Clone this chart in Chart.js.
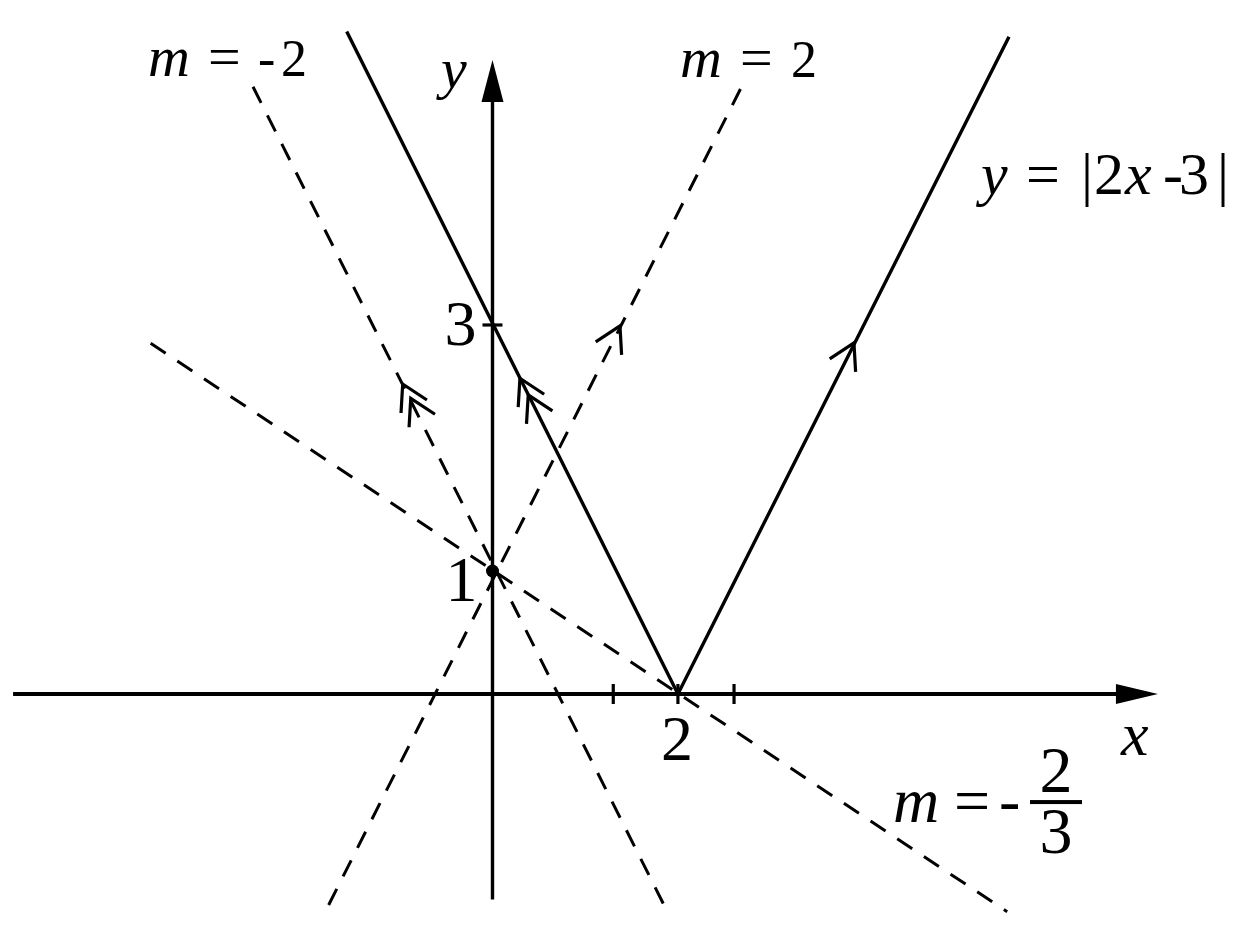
<!DOCTYPE html>
<html lang="en">
<head>
  <meta charset="UTF-8">
  <title>y = |2x - 3| and lines through (0, 1)</title>
  <script src="https://cdn.jsdelivr.net/npm/chart.js"></script>
  <style>
    body {
      margin: 0;
      background: #ffffff;
    }
    #plot {
      display: block;
    }
  </style>
</head>
<body>
  <canvas id="plot" width="1253" height="934"></canvas>

  <script>
    // values (data units)
    const absX = [-1.195, 1.52, 4.234];
    const absY = [5.385, 0, 5.344];
    const m2X = [-1.343, 2.070];
    const m2Y = [-1.715, 4.992];
    const mNeg2X = [-1.963, 1.414];
    const mNeg2Y = [4.937, -1.732];
    const mThirdX = [-2.802, 4.219];
    const mThirdY = [2.851, -1.770];
    const xAxisX = [-3.93, 5.455];
    const yAxisY = [-1.67, 5.154];
    const xTicks = [0.99, 1.52, 1.98];
    const yTicks = [3];
    const pointX = [0];
    const pointY = [1];
    // little arrow marks on the lines (apex positions) and which line they sit on
    const arrowX = [-0.736, -0.670, 0.225, 0.293, 1.045, 2.963];
    const arrowY = [2.520, 2.404, 2.567, 2.431, 2.992, 2.854];
    const arrowOn = ['mNeg2', 'mNeg2', 'absL', 'absL', 'm2', 'absR'];

    const serif = '"Liberation Serif", "Times New Roman", serif';

    function pts(xs, ys) {
      return xs.map((v, i) => ({ x: v, y: ys[i] }));
    }

    // segment used for the direction of each arrow mark
    const segs = {
      mNeg2: pts(mNeg2X, mNeg2Y),
      m2: pts(m2X, m2Y),
      absL: [{ x: absX[1], y: absY[1] }, { x: absX[0], y: absY[0] }],
      absR: [{ x: absX[1], y: absY[1] }, { x: absX[2], y: absY[2] }]
    };

    // text: anchor in data units, pieces offset in pixels
    const labels = [
      { at: [-2.824, 5.024], parts: [
        ['m', 0, 0, 58, true], ['=', 60, 0, 58], ['-', 110, 0, 52], ['2', 133, 0, 52]] },
      { at: [1.537, 5.016], parts: [
        ['m', 0, 0, 58, true], ['=', 60, 0, 58], ['2', 111, 0, 52]] },
      { at: [4.004, 4.065], parts: [
        ['y', 0, 0, 60, true], ['=', 45, 0, 60], ['|', 100, 0, 60], ['2', 113, 0, 60],
        ['x', 144, 0, 60, true], ['-', 182, 0, 60], ['3', 198, 0, 60], ['|', 236, 0, 60]] },
      { at: [3.283, -1.041], parts: [
        ['m', 0, 0, 64, true], ['=', 61, 0, 64], ['-', 106, 0, 64]] },
      { at: [-0.422, 4.927], parts: [['y', 0, 0, 58, true]] },
      { at: [5.152, -0.496], parts: [['x', 0, 0, 62, true]] }
    ];
    // fraction 2/3 after "m = -"
    const fraction = { at: [3.283, -1.041], num: '2', den: '3', cx: 163, bar: [137, -20, 52, 4], size: 66 };
    // tick labels: value position + pixel offset
    const tickLabels = [
      { text: '3', x: 0, y: 3, dx: -32, dy: 20 },
      { text: '1', x: 0, y: 1, dx: -31, dy: 30 },
      { text: '2', x: 1.52, y: 0, dx: -1, dy: 66 }
    ];

    function head(ctx, tx, ty, ang, len, half) {
      const bx = tx - Math.cos(ang) * len, by = ty - Math.sin(ang) * len;
      const nx = -Math.sin(ang) * half, ny = Math.cos(ang) * half;
      ctx.beginPath();
      ctx.moveTo(tx, ty);
      ctx.lineTo(bx + nx, by + ny);
      ctx.lineTo(bx - nx, by - ny);
      ctx.closePath();
      ctx.fill();
    }

    const decor = {
      id: 'decor',
      afterDatasetsDraw(chart) {
        const ctx = chart.ctx;
        const sx = chart.scales.x, sy = chart.scales.y;
        const px = v => sx.getPixelForValue(v);
        const py = v => sy.getPixelForValue(v);
        ctx.save();
        ctx.fillStyle = '#000';
        ctx.strokeStyle = '#000';

        // axis arrowheads
        head(ctx, px(xAxisX[1]), py(0), 0, 42, 10);
        head(ctx, px(0), py(yAxisY[1]), -Math.PI / 2, 42, 11);

        // arrow marks pointing up along their lines
        ctx.lineWidth = 3.2;
        ctx.lineCap = 'butt';
        arrowX.forEach((v, i) => {
          const s = segs[arrowOn[i]];
          const lo = s[0].y < s[1].y ? s[0] : s[1];
          const hi = s[0].y < s[1].y ? s[1] : s[0];
          const ang = Math.atan2(py(hi.y) - py(lo.y), px(hi.x) - px(lo.x));
          const back = ang + Math.PI;
          const ax = px(v), ay = py(arrowY[i]);
          const L = 29, spread = Math.PI / 6;
          ctx.beginPath();
          ctx.moveTo(ax + Math.cos(back - spread) * L, ay + Math.sin(back - spread) * L);
          ctx.lineTo(ax, ay);
          ctx.lineTo(ax + Math.cos(back + spread) * L, ay + Math.sin(back + spread) * L);
          ctx.stroke();
        });

        // labels
        ctx.textBaseline = 'alphabetic';
        ctx.textAlign = 'left';
        labels.forEach(l => {
          const ox = px(l.at[0]), oy = py(l.at[1]);
          l.parts.forEach(p => {
            ctx.font = (p[4] ? 'italic ' : '') + p[3] + 'px ' + serif;
            ctx.fillText(p[0], ox + p[1], oy + p[2]);
          });
        });

        const fx = px(fraction.at[0]), fy = py(fraction.at[1]);
        ctx.fillRect(fx + fraction.bar[0], fy + fraction.bar[1] - fraction.bar[3] / 2, fraction.bar[2], fraction.bar[3]);
        ctx.font = fraction.size + 'px ' + serif;
        ctx.textAlign = 'center';
        ctx.fillText(fraction.num, fx + fraction.cx, fy - 30);
        ctx.fillText(fraction.den, fx + fraction.cx, fy + 31);

        ctx.font = '64px ' + serif;
        tickLabels.forEach(t => {
          ctx.fillText(t.text, px(t.x) + t.dx, py(t.y) + t.dy);
        });
        ctx.restore();
      }
    };

    const solid = { borderColor: '#000', borderWidth: 3.4, showLine: true, pointRadius: 0, fill: false };
    const dashed = { borderColor: '#000', borderWidth: 3, borderDash: [18, 14], showLine: true, pointRadius: 0, fill: false };

    new Chart(document.getElementById('plot'), {
      type: 'scatter',
      data: {
        datasets: [
          { label: 'm = -2/3', data: pts(mThirdX, mThirdY), ...dashed },
          { label: 'm = 2', data: pts(m2X, m2Y), ...dashed },
          { label: 'm = -2', data: pts(mNeg2X, mNeg2Y), ...dashed },
          { label: 'y = |2x - 3|', data: pts(absX, absY), ...solid },
          { label: 'x axis', data: [{ x: xAxisX[0], y: 0 }, { x: xAxisX[1] - 0.3, y: 0 }], ...solid, borderWidth: 4 },
          { label: 'y axis', data: [{ x: 0, y: yAxisY[0] }, { x: 0, y: yAxisY[1] - 0.3 }], ...solid, borderWidth: 3.4 },
          { label: 'x ticks', data: xTicks.map(v => ({ x: v, y: 0 })), showLine: false,
            pointStyle: 'line', rotation: 90, pointRadius: 10, pointBorderWidth: 3.2, borderColor: '#000' },
          { label: 'y ticks', data: yTicks.map(v => ({ x: 0, y: v })), showLine: false,
            pointStyle: 'line', pointRadius: 10, pointBorderWidth: 3.2, borderColor: '#000' },
          { label: '(0, 1)', data: pts(pointX, pointY), showLine: false,
            pointRadius: 6.5, backgroundColor: '#000', borderColor: '#000', pointBorderWidth: 0 }
        ]
      },
      options: {
        responsive: false,
        animation: false,
        layout: { padding: 0, autoPadding: false },
        plugins: {
          legend: { display: false },
          tooltip: { enabled: false }
        },
        scales: {
          x: { type: 'linear', min: -4.037, max: 6.234, display: false },
          y: { type: 'linear', min: -1.951, max: 5.642, display: false }
        }
      },
      plugins: [decor]
    });
  </script>
</body>
</html>
